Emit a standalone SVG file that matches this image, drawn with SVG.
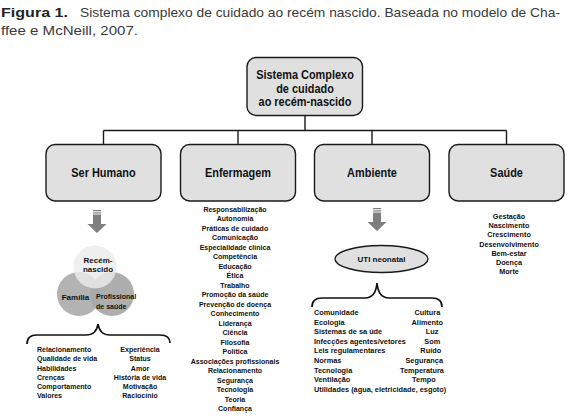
<svg xmlns="http://www.w3.org/2000/svg" width="567" height="420" viewBox="0 0 567 420">
<style>
.t{font-family:"Liberation Sans",Arial,sans-serif;}
.cap{font-size:13.5px;fill:#3a3a3a;}
.capb{font-size:13.5px;font-weight:bold;fill:#222;}
.bx{font-size:12px;font-weight:bold;fill:#111;text-anchor:middle;}
.ls{font-size:8px;font-weight:bold;fill:#111;}
.m{text-anchor:middle;}
.e{text-anchor:end;}
.box{fill:#e0e0e0;stroke:#1a1a1a;stroke-width:1.4;}
.ln{fill:none;stroke:#1a1a1a;stroke-width:1.4;}
.br{fill:none;stroke:#111;stroke-width:1.7;}
.ar{fill:#7f7f7f;}
</style>
<rect width="567" height="420" fill="#fff"/>
<g id="caption" class="t">
<text class="capb" x="1" y="16.5" textLength="67" lengthAdjust="spacingAndGlyphs">Figura 1.</text>
<text class="cap" x="80" y="16.5" textLength="480" lengthAdjust="spacingAndGlyphs">Sistema complexo de cuidado ao recém nascido. Baseada no modelo de Cha-</text>
<text class="cap" x="1" y="35" textLength="137" lengthAdjust="spacingAndGlyphs">ffee e McNeill, 2007.</text>
</g>
<g id="connectors">
<path class="ln" d="M305 115.5V130.5M103.5 130.5H506.5M103.5 130.5V144.5M238 130.5V144.5M372 130.5V144.5M506.5 130.5V144.5"/>
</g>
<g id="root">
<rect class="box" x="247" y="57.5" width="115.5" height="58" rx="9"/>
<g class="t" transform="translate(305 0) scale(0.91 1)">
<text class="bx" x="0" y="79.5">Sistema Complexo</text>
<text class="bx" x="0" y="93">de cuidado</text>
<text class="bx" x="0" y="106.5">ao recém-nascido</text>
</g>
</g>
<g id="ser-humano">
<rect class="box" x="46" y="144.5" width="115" height="56.5" rx="9"/>
<text class="t bx" x="103.5" y="177" transform="translate(103.5 0) scale(0.91 1) translate(-103.5 0)">Ser Humano</text>
</g>
<g id="enfermagem">
<rect class="box" x="180.5" y="144.5" width="115" height="56.5" rx="9"/>
<text class="t bx" x="238" y="177" transform="translate(238 0) scale(0.91 1) translate(-238 0)">Enfermagem</text>
</g>
<g id="ambiente">
<rect class="box" x="314.5" y="144.5" width="115" height="56.5" rx="9"/>
<text class="t bx" x="372" y="177" transform="translate(372 0) scale(0.91 1) translate(-372 0)">Ambiente</text>
</g>
<g id="saude">
<rect class="box" x="449" y="144.5" width="115" height="56.5" rx="9"/>
<text class="t bx" x="506.5" y="177" transform="translate(506.5 0) scale(0.91 1) translate(-506.5 0)">Saúde</text>
</g>
<g id="arrow-ser-humano">
<rect class="ar" x="93" y="210" width="8" height="1.2"/>
<rect class="ar" x="93" y="212.3" width="8" height="1.2"/>
<path class="ar" d="M93 214.6H101V224H106.5L97 233L87.5 224H93Z"/>
</g>
<g id="venn">
<circle cx="79" cy="294" r="22" fill="#b3b3b3"/>
<circle cx="112" cy="294" r="22" fill="#a7a7a7" opacity="0.92"/>
<circle cx="95" cy="267" r="21.5" fill="#ececec" opacity="0.82"/>
<g class="t ls">
<text class="m" x="98" y="262.5">Recém-</text>
<text class="m" x="98" y="272">nascido</text>
<text class="m" x="75.5" y="300">Família</text>
<text x="96" y="299" transform="translate(96 0) scale(0.88 1) translate(-96 0)">Profissional</text>
<text x="96" y="309" transform="translate(96 0) scale(0.88 1) translate(-96 0)">de saúde</text>
</g>
</g>
<g id="brace-ser-humano">
<path class="br" d="M27 344C27 338 30 335 37 335L86 335C93 335 97 331 98 324C99 331 103 335 110 335L160 335C167 335 170 338 170 343"/>
</g>
<g id="list-ser-humano" class="t ls">
<g transform="translate(37 0) scale(0.88 1)">
<text x="0" y="352">Relacionamento</text>
<text x="0" y="361.3">Qualidade de vida</text>
<text x="0" y="370.6">Habilidades</text>
<text x="0" y="379.9">Crenças</text>
<text x="0" y="389.2">Comportamento</text>
<text x="0" y="398.5">Valores</text>
</g>
<g class="m" transform="translate(140 0) scale(0.88 1)">
<text x="0" y="352">Experiência</text>
<text x="0" y="361.3">Status</text>
<text x="0" y="370.6">Amor</text>
<text x="0" y="379.9">História de vida</text>
<text x="0" y="389.2">Motivação</text>
<text x="0" y="398.5">Raciocínio</text>
</g>
</g>
<g id="list-enfermagem" class="t ls m" transform="translate(235 0) scale(0.88 1)">
<text x="0" y="212">Responsabilização</text>
<text x="0" y="221.5">Autonomia</text>
<text x="0" y="231">Práticas de cuidado</text>
<text x="0" y="240.5">Comunicação</text>
<text x="0" y="250">Especialidade clínica</text>
<text x="0" y="259.5">Competência</text>
<text x="0" y="269">Educação</text>
<text x="0" y="278.5">Ética</text>
<text x="0" y="288">Trabalho</text>
<text x="0" y="297.5">Promoção da saúde</text>
<text x="0" y="307">Prevenção de doença</text>
<text x="0" y="316.5">Conhecimento</text>
<text x="0" y="326">Liderança</text>
<text x="0" y="335.5">Ciência</text>
<text x="0" y="345">Filosofia</text>
<text x="0" y="354.5">Política</text>
<text x="0" y="364">Associações profissionais</text>
<text x="0" y="373.5">Relacionamento</text>
<text x="0" y="383">Segurança</text>
<text x="0" y="392.5">Tecnologia</text>
<text x="0" y="402">Teoria</text>
<text x="0" y="411.5">Confiança</text>
</g>
<g id="arrow-ambiente">
<rect class="ar" x="373" y="208" width="8" height="1.2"/>
<rect class="ar" x="373" y="210.3" width="8" height="1.2"/>
<path class="ar" d="M373 212.6H381V222H386.5L377 231L367.5 222H373Z"/>
</g>
<g id="uti-neonatal">
<ellipse cx="381.5" cy="259" rx="46.5" ry="13.5" fill="#e0e0e0" stroke="#1a1a1a" stroke-width="1.4"/>
<text class="t ls m" x="381.5" y="262">UTI neonatal</text>
</g>
<g id="brace-ambiente">
<path class="br" d="M312 307C312 301 315 298 322 298L365 298C372 298 376 294 377 283C378 294 382 298 389 298L432 298C439 298 442 301 442 307"/>
</g>
<g id="list-ambiente" class="t ls">
<g transform="translate(314 0) scale(0.92 1)">
<text x="0" y="315">Comunidade</text>
<text x="0" y="324.6">Ecologia</text>
<text x="0" y="334.2">Sistemas de sa úde</text>
<text x="0" y="343.8">Infecções agentes/vetores</text>
<text x="0" y="353.4">Leis regulamentares</text>
<text x="0" y="363">Normas</text>
<text x="0" y="372.6">Tecnologia</text>
<text x="0" y="382.2">Ventilação</text>
<text x="0" y="391.8">Utilidades (água, eletricidade, esgoto)</text>
</g>
<g class="e" transform="translate(443 0) scale(0.92 1)">
<text x="-3" y="315">Cultura</text>
<text x="0" y="324.6">Alimento</text>
<text x="-5" y="334.2">Luz</text>
<text x="-3" y="343.8">Som</text>
<text x="-2" y="353.4">Ruído</text>
<text x="0" y="363">Segurança</text>
<text x="1" y="372.6">Temperatura</text>
<text x="-8" y="382.2">Tempo</text>
</g>
</g>
<g id="list-saude" class="t ls m" transform="translate(509 0) scale(0.9 1)">
<text x="0" y="219">Gestação</text>
<text x="0" y="228.2">Nascimento</text>
<text x="0" y="237.4">Crescimento</text>
<text x="0" y="246.6">Desenvolvimento</text>
<text x="0" y="255.8">Bem-estar</text>
<text x="0" y="265">Doença</text>
<text x="0" y="274.2">Morte</text>
</g>
</svg>
